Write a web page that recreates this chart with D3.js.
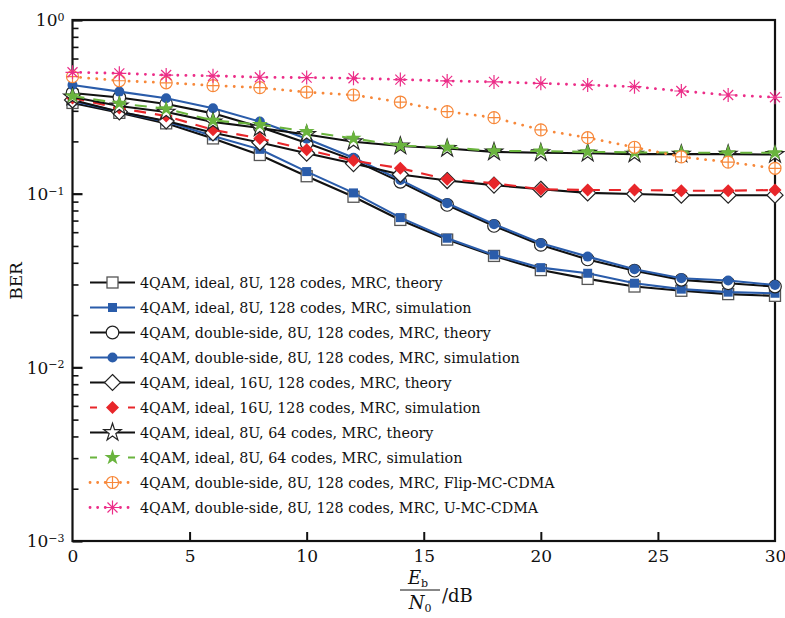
<!DOCTYPE html>
<html>
<head>
<meta charset="utf-8">
<script src="https://cdn.jsdelivr.net/npm/d3@7"></script>
<style>
  body { margin: 0; background: #fff; }
  svg text { font-family: "DejaVu Serif", "Liberation Serif", serif; fill: #111; }
</style>
</head>
<body>
<svg id="chart" width="785" height="618"></svg>
<script>
// Eb/N0 points (dB)
const snr = [0, 2, 4, 6, 8, 10, 12, 14, 16, 18, 20, 22, 24, 26, 28, 30];

// BER values
const ideal8u128Theory = [0.333, 0.292, 0.254, 0.208, 0.167, 0.126, 0.096, 0.0706, 0.0544, 0.0438, 0.0363, 0.0323, 0.0292, 0.0276, 0.0264, 0.0258];
const ideal8u128Sim    = [0.342, 0.296, 0.260, 0.215, 0.180, 0.134, 0.101, 0.0728, 0.0554, 0.0444, 0.0375, 0.0348, 0.0305, 0.0282, 0.0271, 0.0267];
const double8u128Theory = [0.380, 0.358, 0.328, 0.290, 0.242, 0.196, 0.156, 0.117, 0.0861, 0.0652, 0.0507, 0.0418, 0.0360, 0.0319, 0.0305, 0.0292];
const double8u128Sim    = [0.422, 0.387, 0.354, 0.310, 0.260, 0.207, 0.161, 0.120, 0.0880, 0.0667, 0.0518, 0.0434, 0.0367, 0.0326, 0.0316, 0.0298];
const ideal16u128Theory = [0.346, 0.296, 0.262, 0.224, 0.197, 0.171, 0.149, 0.129, 0.119, 0.112, 0.106, 0.101, 0.0996, 0.098, 0.098, 0.098];
const ideal16u128Sim    = [0.356, 0.311, 0.280, 0.233, 0.208, 0.179, 0.155, 0.140, 0.121, 0.115, 0.106, 0.105, 0.105, 0.104, 0.104, 0.105];
const ideal8u64Theory = [0.360, 0.320, 0.295, 0.259, 0.239, 0.219, 0.199, 0.188, 0.182, 0.174, 0.172, 0.171, 0.169, 0.169, 0.169, 0.168];
const ideal8u64Sim    = [0.365, 0.331, 0.308, 0.264, 0.250, 0.228, 0.208, 0.189, 0.185, 0.176, 0.176, 0.174, 0.173, 0.172, 0.172, 0.172];
const flipMcCdma = [0.472, 0.447, 0.435, 0.419, 0.408, 0.384, 0.370, 0.337, 0.297, 0.274, 0.233, 0.210, 0.185, 0.163, 0.152, 0.140];
const uMcCdma    = [0.500, 0.493, 0.482, 0.477, 0.468, 0.466, 0.462, 0.454, 0.446, 0.440, 0.432, 0.422, 0.413, 0.390, 0.370, 0.359];

const legendLabels = [
  "4QAM, ideal, 8U, 128 codes, MRC, theory",
  "4QAM, ideal, 8U, 128 codes, MRC, simulation",
  "4QAM, double-side, 8U, 128 codes, MRC, theory",
  "4QAM, double-side, 8U, 128 codes, MRC, simulation",
  "4QAM, ideal, 16U, 128 codes, MRC, theory",
  "4QAM, ideal, 16U, 128 codes, MRC, simulation",
  "4QAM, ideal, 8U, 64 codes, MRC, theory",
  "4QAM, ideal, 8U, 64 codes, MRC, simulation",
  "4QAM, double-side, 8U, 128 codes, MRC, Flip-MC-CDMA",
  "4QAM, double-side, 8U, 128 codes, MRC, U-MC-CDMA"
];

const xTicks = [0, 5, 10, 15, 20, 25, 30];
const yMajor = [1e-3, 1e-2, 1e-1, 1];

const blue = "#2a5caa", red = "#e8262a", green = "#6ab43e", orange = "#f7883a", pink = "#ec2d88";

const series = [
  { y: ideal8u128Theory, color: "#111", dash: null, marker: "square" },
  { y: ideal8u128Sim, color: blue, dash: null, marker: "squareFill" },
  { y: double8u128Theory, color: "#111", dash: null, marker: "circle" },
  { y: double8u128Sim, color: blue, dash: null, marker: "circleFill" },
  { y: ideal16u128Theory, color: "#111", dash: null, marker: "diamond" },
  { y: ideal16u128Sim, color: red, dash: "12 9", marker: "diamondFill" },
  { y: ideal8u64Theory, color: "#111", dash: null, marker: "star" },
  { y: ideal8u64Sim, color: green, dash: "12 9", marker: "starFill" },
  { y: flipMcCdma, color: orange, dash: "0.1 8", marker: "crossCircle" },
  { y: uMcCdma, color: pink, dash: "0.1 8", marker: "asterisk" }
];

const svg = d3.select("#chart");
const plotLeft = 72.5, plotRight = 775, plotTop = 20, plotBottom = 541;

const x = d3.scaleLinear().domain([0, 30]).range([plotLeft, plotRight]);
const y = d3.scaleLog().domain([1e-3, 1]).range([plotBottom, plotTop]);

// axes
const xAxis = d3.axisBottom(x).tickValues(xTicks).tickSizeInner(-9).tickSizeOuter(0).tickPadding(9);
const gx = svg.append("g").attr("transform", `translate(0,${plotBottom})`).call(xAxis);
gx.select(".domain").remove();
gx.selectAll(".tick line").attr("stroke", "#111").attr("stroke-width", 2)
  .filter(d => d === 0 || d === 30).remove();
gx.selectAll(".tick text").attr("font-size", 17).attr("fill", "#111");

const yMinor = [];
[1e-3, 1e-2, 1e-1].forEach(dec => [2, 3, 4, 5, 6, 7, 8, 9].forEach(m => yMinor.push(dec * m)));

const gyMinor = svg.append("g").attr("transform", `translate(${plotLeft},0)`)
  .call(d3.axisLeft(y).tickValues(yMinor).tickSizeInner(-6).tickSizeOuter(0).tickFormat(""));
gyMinor.select(".domain").remove();
gyMinor.selectAll(".tick line").attr("stroke", "#111").attr("stroke-width", 1.6);

const gy = svg.append("g").attr("transform", `translate(${plotLeft},0)`)
  .call(d3.axisLeft(y).tickValues(yMajor).tickSizeInner(-10).tickSizeOuter(0).tickPadding(8).tickFormat(""));
gy.select(".domain").remove();
gy.selectAll(".tick line").attr("stroke", "#111").attr("stroke-width", 2.2);
gy.selectAll(".tick text").each(function(d) {
  const t = d3.select(this).attr("font-size", 17).attr("fill", "#111").attr("dy", "0.35em");
  t.append("tspan").text("10");
  const e = Math.round(Math.log10(d));
  t.append("tspan").attr("dy", "-0.5em").attr("font-size", 11).text(e === 0 ? "0" : "\u2212" + Math.abs(e));
});

// frame
svg.append("rect").attr("x", plotLeft).attr("y", plotTop).attr("width", plotRight - plotLeft).attr("height", plotBottom - plotTop)
  .attr("fill", "none").attr("stroke", "#111").attr("stroke-width", 2.2);

// markers
function marker(g, type, color) {
  switch (type) {
    case "square":
      g.append("rect").attr("x", -5.5).attr("y", -5.5).attr("width", 11).attr("height", 11)
        .attr("fill", "#fff").attr("stroke", "#555").attr("stroke-width", 1.3); break;
    case "squareFill":
      g.append("rect").attr("x", -4.5).attr("y", -4.5).attr("width", 9).attr("height", 9).attr("fill", color); break;
    case "circle":
      g.append("circle").attr("r", 6.3).attr("fill", "#fff").attr("stroke", "#222").attr("stroke-width", 1.2); break;
    case "circleFill":
      g.append("circle").attr("r", 5).attr("fill", color); break;
    case "diamond":
      g.append("path").attr("d", "M0,-8L8,0L0,8L-8,0Z").attr("fill", "#fff").attr("stroke", "#222").attr("stroke-width", 1.2); break;
    case "diamondFill":
      g.append("path").attr("d", "M0,-6.5L6.5,0L0,6.5L-6.5,0Z").attr("fill", color); break;
    case "star":
      g.append("path").attr("d", d3.symbol(d3.symbolStar, 95)()).attr("fill", "#fff").attr("stroke", "#222").attr("stroke-width", 1.2); break;
    case "starFill":
      g.append("path").attr("d", d3.symbol(d3.symbolStar, 80)()).attr("fill", color); break;
    case "crossCircle":
      g.append("circle").attr("r", 6).attr("fill", "#fff").attr("stroke", color).attr("stroke-width", 1.2);
      g.append("path").attr("d", "M-6,0H6M0,-6V6").attr("stroke", color).attr("stroke-width", 1.2); break;
    case "asterisk":
      g.append("path").attr("d", "M-7,0H7M0,-7V7M-5,-5L5,5M-5,5L5,-5").attr("stroke", color).attr("stroke-width", 1.2); break;
  }
}

const line = d3.line().x((d, i) => x(snr[i])).y(d => y(d));
const plot = svg.append("g");

series.forEach(s => {
  const g = plot.append("g");
  const dotted = s.dash && s.dash.startsWith("0.1");
  g.append("path").datum(s.y).attr("d", line).attr("fill", "none")
    .attr("stroke", s.color).attr("stroke-width", dotted ? 2.8 : 2.1)
    .attr("stroke-linecap", dotted ? "round" : "butt")
    .attr("stroke-dasharray", s.dash);
  g.selectAll("g.m").data(s.y).enter().append("g").attr("class", "m")
    .attr("transform", (d, i) => `translate(${x(snr[i])},${y(d)})`)
    .each(function() { marker(d3.select(this), s.marker, s.color); });
});

// legend
const leg = svg.append("g");
series.forEach((s, i) => {
  const ly = 282.5 + i * 25;
  const row = leg.append("g").attr("transform", `translate(0,${ly})`);
  const dotted = s.dash && s.dash.startsWith("0.1");
  row.append("line").attr("x1", 90).attr("x2", 135).attr("y1", 0).attr("y2", 0)
    .attr("stroke", s.color).attr("stroke-width", dotted ? 2.8 : 2)
    .attr("stroke-linecap", dotted ? "round" : "butt")
    .attr("stroke-dasharray", dotted ? "0.1 7.5" : (s.dash ? "7 31 7" : null));
  const m = row.append("g").attr("transform", "translate(112.5,0)");
  marker(m, s.marker, s.color);
  row.append("text").attr("x", 140).attr("y", 0).attr("dy", "0.35em").attr("font-size", 14.3)
    .attr("fill", "#222").text(legendLabels[i]);
});

// axis titles
svg.append("text").attr("transform", "translate(22,281) rotate(-90)").attr("text-anchor", "middle")
  .attr("font-size", 17).text("BER");

const xt = svg.append("g").attr("transform", "translate(420,0)");
const eb = xt.append("text").attr("x", -2).attr("y", 584).attr("text-anchor", "middle").attr("font-size", 18);
eb.append("tspan").attr("font-style", "italic").text("E");
eb.append("tspan").attr("font-size", 11).attr("dy", 3).text("b");
xt.append("line").attr("x1", -20).attr("x2", 20).attr("y1", 590).attr("y2", 590).attr("stroke", "#111").attr("stroke-width", 1.2);
const n0 = xt.append("text").attr("x", 0).attr("y", 609).attr("text-anchor", "middle").attr("font-size", 18);
n0.append("tspan").attr("font-style", "italic").text("N");
n0.append("tspan").attr("font-size", 11).attr("dy", 3).text("0");
xt.append("text").attr("x", 22).attr("y", 596).attr("dy", "0.35em").attr("font-size", 18).text("/dB");
</script>
</body>
</html>
